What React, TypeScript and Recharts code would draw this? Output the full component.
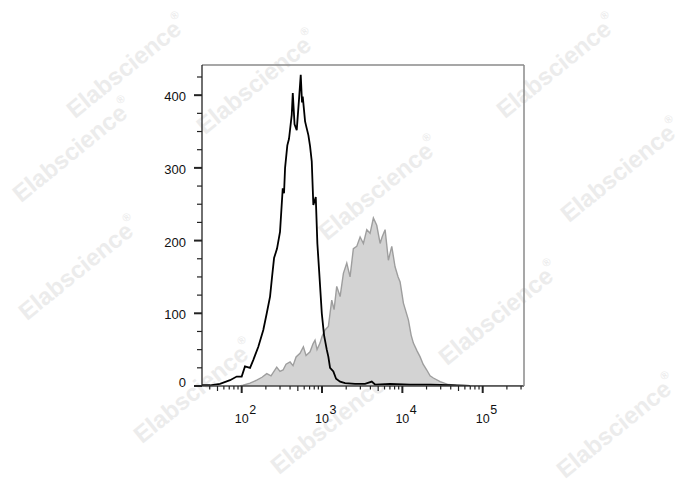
import React from 'react';
import { ComposedChart, Area, Line, XAxis, YAxis } from 'recharts';

// log10 of fluorescence channel, and counts
const blackX = [1.506, 1.606, 1.73, 1.855, 1.938, 2.0, 2.041, 2.104, 2.145, 2.207, 2.269, 2.312, 2.353, 2.378, 2.403, 2.44, 2.477, 2.511, 2.527, 2.54, 2.568, 2.589, 2.623, 2.636, 2.658, 2.685, 2.714, 2.735, 2.751, 2.76, 2.789, 2.808, 2.83, 2.851, 2.872, 2.892, 2.922, 2.942, 2.963, 2.997, 3.025, 3.059, 3.079, 3.1, 3.141, 3.175, 3.225, 3.287, 3.411, 3.536, 3.619, 3.66, 3.847, 4.096, 4.345, 4.594, 4.843];
const blackY = [1, 1, 3, 8, 13, 13, 27, 25, 36, 54, 77, 100, 123, 150, 176, 189, 212, 272, 265, 300, 331, 340, 373, 403, 360, 352, 395, 428, 390, 398, 364, 355, 345, 330, 309, 249, 260, 196, 160, 100, 70, 50, 40, 25, 20, 10, 6, 4, 3, 3, 6, 2, 3, 2, 2, 1, 0];

const grayX = [1.979, 2.017, 2.104, 2.187, 2.253, 2.312, 2.365, 2.436, 2.477, 2.515, 2.552, 2.602, 2.639, 2.677, 2.726, 2.768, 2.801, 2.851, 2.888, 2.913, 2.938, 2.975, 3.0, 3.037, 3.079, 3.121, 3.15, 3.183, 3.225, 3.266, 3.308, 3.349, 3.39, 3.432, 3.474, 3.515, 3.557, 3.598, 3.639, 3.681, 3.723, 3.748, 3.785, 3.826, 3.868, 3.909, 3.947, 3.972, 4.013, 4.075, 4.109, 4.137, 4.184, 4.221, 4.258, 4.304, 4.345, 4.386, 4.47, 4.573, 4.669, 4.843, 5.514];
const grayY = [0, 1, 4, 8, 12, 17, 14, 26, 20, 22, 30, 33, 28, 40, 45, 54, 42, 47, 58, 63, 50, 59, 68, 77, 82, 118, 105, 137, 123, 155, 169, 150, 189, 192, 205, 196, 215, 210, 231, 221, 196, 205, 215, 173, 192, 164, 150, 143, 114, 91, 70, 59, 48, 40, 30, 22, 14, 11, 6, 2, 1, 0.5, 0.5];

const decades = [2, 3, 4, 5];
const yTicks = [0, 25, 50, 75, 100, 125, 150, 175, 200, 225, 250, 275, 300, 325, 350, 375, 400, 425];
const X_DOMAIN: [number, number] = [1.506, 5.514];
const Y_DOMAIN: [number, number] = [0, 441.5];

// watermark centres, page pixels
const watermarks = [
  [128, 68], [74, 152], [258, 84], [558, 68], [380, 190], [622, 172],
  [80, 270], [500, 315], [195, 393], [618, 428], [332, 424],
];

// merge the two histograms into one table
const byX = new Map<number, { x: number; black?: number; gray?: number }>();
blackX.forEach((x, i) => byX.set(x, { ...(byX.get(x) || { x }), black: blackY[i] }));
grayX.forEach((x, i) => byX.set(x, { ...(byX.get(x) || { x }), gray: grayY[i] }));
const data = Array.from(byX.values()).sort((a, b) => a.x - b.x);

// minor log ticks between decades
const xTicks: number[] = [];
for (let n = 1; n <= 5; n++) {
  for (let k = 1; k <= 9; k++) {
    const v = Math.log10(k * Math.pow(10, n));
    if (v >= X_DOMAIN[0] && v <= X_DOMAIN[1]) xTicks.push(v);
  }
}

const FONT = '"Liberation Sans", Arial, sans-serif';

const XTick = (props: any) => {
  const { x, y, payload } = props;
  const v = payload.value;
  const isMajor = Math.abs(v - Math.round(v)) < 1e-6;
  const frac = Math.round(Math.pow(10, v - Math.floor(v + 1e-9)));
  const len = isMajor ? 7 : frac === 5 ? 5 : 3.5;
  return (
    <g>
      <line x1={x} x2={x} y1={y} y2={y + len} stroke="#222" strokeWidth={isMajor ? 2 : 1.2} />
      {isMajor && decades.includes(Math.round(v)) && (
        <g fontFamily={FONT} fill="#111">
          <text x={x} y={y + 37} textAnchor="middle" fontSize={12.5}>10</text>
          <text x={x + 7.5} y={y + 28} textAnchor="start" fontSize={12.5}>{Math.round(v)}</text>
        </g>
      )}
    </g>
  );
};

const YTick = (props: any) => {
  const { x, y, payload } = props;
  const v = payload.value;
  const isMajor = v % 100 === 0;
  return (
    <g>
      <line x1={x - (isMajor ? 8 : 5)} x2={x} y1={y} y2={y} stroke="#222" strokeWidth={isMajor ? 2 : 1.2} />
      {isMajor && (
        <text x={x - 16} y={v === 0 ? y + 1 : y + 6} textAnchor="end" fontSize={13} fontFamily={FONT} fill="#111">
          {v}
        </text>
      )}
    </g>
  );
};

export default function App() {
  return (
    <div style={{ position: 'relative', width: 680, height: 482 }}>
      <svg
        width={688}
        height={490}
        style={{ position: 'absolute', left: -8, top: -8, pointerEvents: 'none' }}
      >
        {watermarks.map(([cx, cy], i) => (
          <text
            key={i}
            x={cx}
            y={cy}
            transform={`rotate(-39 ${cx} ${cy})`}
            textAnchor="middle"
            dominantBaseline="middle"
            fontFamily={FONT}
            fontWeight="bold"
            fontSize={24}
            fill="#ececec"
          >
            Elabscience
            <tspan fontSize={11} dy={-11}>®</tspan>
          </text>
        ))}
      </svg>
      <ComposedChart
        width={680}
        height={482}
        data={data}
        margin={{ top: 56, right: 163, bottom: 64, left: 144 }}
      >
        <XAxis
          xAxisId="main"
          dataKey="x"
          type="number"
          domain={X_DOMAIN}
          allowDataOverflow
          ticks={xTicks}
          interval={0}
          tick={<XTick />}
          tickLine={false}
          tickSize={0}
          tickMargin={0}
          height={40}
          axisLine={{ stroke: '#444', strokeWidth: 1.3 }}
        />
        <XAxis
          xAxisId="top"
          orientation="top"
          dataKey="x"
          type="number"
          domain={X_DOMAIN}
          allowDataOverflow
          tick={false}
          tickLine={false}
          height={1}
          axisLine={{ stroke: '#8a8a8a', strokeWidth: 1.5 }}
        />
        <YAxis
          yAxisId="main"
          type="number"
          domain={Y_DOMAIN}
          allowDataOverflow
          ticks={yTicks}
          interval={0}
          tick={<YTick />}
          tickLine={false}
          tickSize={0}
          tickMargin={0}
          width={50}
          axisLine={{ stroke: '#222', strokeWidth: 1.3 }}
        />
        <YAxis
          yAxisId="right"
          orientation="right"
          type="number"
          domain={Y_DOMAIN}
          allowDataOverflow
          tick={false}
          tickLine={false}
          width={1}
          axisLine={{ stroke: '#8a8a8a', strokeWidth: 1.5 }}
        />
        <Area
          xAxisId="main"
          yAxisId="main"
          type="linear"
          dataKey="gray"
          fill="#d3d3d3"
          fillOpacity={1}
          stroke="#9e9e9e"
          strokeWidth={1.4}
          connectNulls
          isAnimationActive={false}
        />
        <Line
          xAxisId="main"
          yAxisId="main"
          type="linear"
          dataKey="black"
          stroke="#000"
          strokeWidth={1.8}
          dot={false}
          connectNulls
          isAnimationActive={false}
        />
      </ComposedChart>
    </div>
  );
}
